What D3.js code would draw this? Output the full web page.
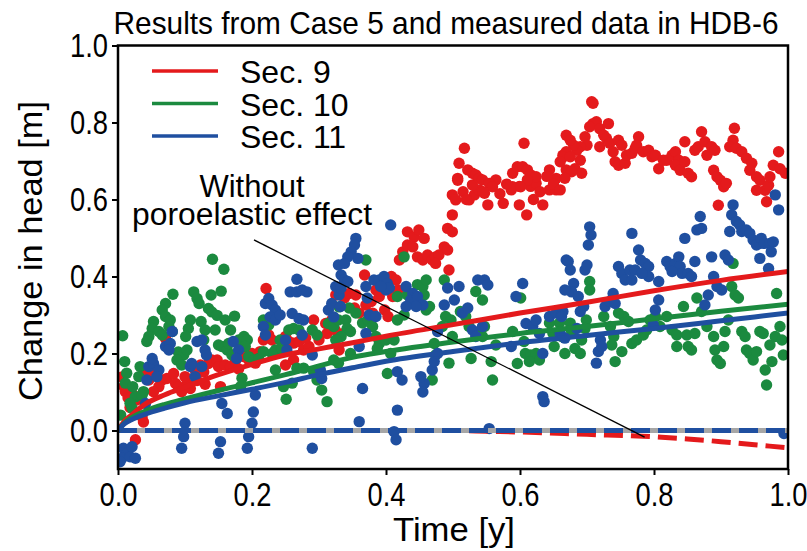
<!DOCTYPE html>
<html>
<head>
<meta charset="utf-8">
<script src="https://cdn.jsdelivr.net/npm/d3@7"></script>
<style>
  html, body { margin: 0; padding: 0; background: #fff; }
  svg { display: block; }
  text { font-family: "Liberation Sans", Arial, Helvetica, sans-serif; fill: #000; }
</style>
</head>
<body>
<svg id="chart" width="807" height="551"></svg>
<script>
// ---- Data ----
const chartTitle = "Results from Case 5 and measured data in HDB-6";
const xLabel = "Time [y]";
const yLabel = "Change in head [m]";
const xTicks = [0, 0.2, 0.4, 0.6, 0.8, 1.0];
const yTicks = [0, 0.2, 0.4, 0.6, 0.8, 1.0];
const seriesNames = ["Sec. 9", "Sec. 10", "Sec. 11"];
const seriesColors = ["#e41a1c", "#1b8a3f", "#1f4fa0"];

// measured head change [time (y), head (m)]
const sec9Points = [
  [0.221,0.369],[0.006,0.139],[0.009,0.114],[0.011,0.101],[0.023,0.092],[0.028,0.079],[0.036,0.035],[0.038,0.022],
  [0.026,-0.024],[0.041,0.156],[0.051,0.148],[0.058,0.152],[0.046,0.131],[0.066,0.131],[0.073,0.135],[0.061,0.114],
  [0.053,0.101],[0.083,0.148],[0.086,0.122],[0.09,0.114],[0.095,0.101],[0.103,0.122],[0.108,0.109],[0.071,0.239],
  [0.076,0.226],[0.115,0.157],[0.123,0.17],[0.128,0.152],[0.135,0.174],[0.14,0.183],[0.148,0.183],[0.15,0.166],
  [0.16,0.17],[0.168,0.166],[0.153,0.114],[0.187,0.192],[0.193,0.196],[0.195,0.183],[0.212,0.205],[0.217,0.235],
  [0.22,0.244],[0.225,0.248],[0.23,0.235],[0.25,0.244],[0.255,0.231],[0.262,0.227],[0.262,0.183],[0.25,0.17],
  [0.27,0.231],[0.277,0.209],[0.285,0.218],[0.292,0.287],[0.3,0.235],[0.312,0.252],[0.31,0.278],[0.319,0.287],
  [0.324,0.261],[0.1,0.14],[0.118,0.13],[0.13,0.12],[0.175,0.18],[0.18,0.16],[0.2,0.2],[0.205,0.175],[0.24,0.21],
  [0.28,0.24],[0.018,0.06],[0.015,0.085],
  [0.325,0.352],[0.338,0.344],[0.345,0.356],[0.355,0.352],[0.353,0.318],[0.36,0.305],[0.37,0.326],[0.378,0.335],
  [0.385,0.365],[0.39,0.348],[0.398,0.313],[0.403,0.296],[0.4,0.391],[0.408,0.4],[0.415,0.391],[0.418,0.365],
  [0.368,0.404],[0.41,0.348],[0.38,0.305],[0.33,0.209],[0.333,0.251],
  [0.432,0.516],[0.442,0.503],[0.449,0.521],[0.457,0.499],[0.42,0.443],[0.425,0.464],[0.432,0.482],[0.44,0.477],
  [0.447,0.451],[0.455,0.443],[0.462,0.456],[0.469,0.443],[0.474,0.451],[0.479,0.456],[0.487,0.477],[0.492,0.469],
  [0.494,0.417],[0.474,0.434],[0.492,0.525],[0.499,0.516],[0.499,0.56],
  [0.507,0.65],[0.499,0.612],[0.504,0.599],[0.524,0.599],[0.532,0.612],[0.539,0.625],[0.547,0.616],[0.529,0.638],
  [0.552,0.586],[0.557,0.642],[0.564,0.651],[0.587,0.625],[0.599,0.634],[0.599,0.586],[0.616,0.634],[0.624,0.642],
  [0.634,0.586],[0.644,0.625],[0.654,0.625],
  [0.517,0.733],[0.509,0.694],[0.507,0.655],[0.522,0.677],[0.529,0.668],[0.534,0.664],[0.539,0.655],[0.544,0.651],
  [0.554,0.642],[0.559,0.633],[0.606,0.746],[0.589,0.668],[0.596,0.685],[0.604,0.685],[0.611,0.677],[0.616,0.664],
  [0.624,0.659],[0.611,0.651],[0.589,0.633],[0.601,0.633],[0.644,0.677],[0.654,0.655],[0.669,0.767],[0.664,0.715],
  [0.669,0.677],[0.515,0.62],[0.52,0.6],[0.545,0.62],[0.57,0.615],[0.575,0.59],[0.58,0.64],[0.62,0.6],[0.63,0.62],
  [0.64,0.66],[0.65,0.64],[0.61,0.56],
  [0.707,0.854],[0.709,0.85],[0.709,0.797],[0.714,0.802],[0.704,0.789],[0.719,0.784],[0.732,0.797],[0.725,0.767],
  [0.729,0.759],[0.697,0.763],[0.7,0.741],[0.69,0.737],[0.685,0.728],[0.68,0.741],[0.675,0.754],[0.669,0.724],
  [0.665,0.711],[0.66,0.698],[0.69,0.702],[0.682,0.68],[0.692,0.668],[0.677,0.672],[0.667,0.655],[0.66,0.625],
  [0.675,0.711],
  [0.719,0.737],[0.734,0.746],[0.739,0.724],[0.747,0.754],[0.752,0.741],[0.742,0.698],[0.747,0.689],[0.757,0.694],
  [0.759,0.715],[0.767,0.72],[0.772,0.733],[0.777,0.763],[0.774,0.741],[0.784,0.724],[0.792,0.728],[0.797,0.711],
  [0.802,0.715],[0.807,0.68],[0.814,0.702],[0.819,0.702],[0.827,0.715],[0.832,0.724],[0.837,0.702],[0.832,0.689],
  [0.839,0.676],[0.846,0.698],[0.851,0.668],[0.856,0.659],[0.846,0.75],[0.861,0.728],[0.866,0.737],[0.871,0.776],
  [0.876,0.75],[0.879,0.715],[0.886,0.737],[0.891,0.728],[0.889,0.676],[0.894,0.659],[0.899,0.65],[0.904,0.633],
  [0.896,0.585],[0.908,0.642],
  [0.92,0.785],[0.918,0.754],[0.913,0.737],[0.923,0.733],[0.931,0.724],[0.938,0.707],[0.946,0.694],[0.943,0.676],
  [0.953,0.659],[0.958,0.65],[0.966,0.624],[0.971,0.637],[0.973,0.659],[0.978,0.689],[0.986,0.724],[0.988,0.68],
  [0.953,0.624],[0.968,0.594],[0.996,0.668]
];

const sec10Points = [
  [0.141,0.445],[0.158,0.419],[0.082,0.354],[0.071,0.33],[0.113,0.36],[0.118,0.343],[0.121,0.33],[0.139,0.352],
  [0.154,0.362],[0.135,0.317],[0.14,0.308],[0.148,0.299],[0.16,0.287],[0.168,0.261],[0.174,0.297],[0.108,0.287],
  [0.105,0.265],[0.101,0.244],[0.124,0.283],[0.13,0.261],[0.128,0.235],[0.145,0.261],[0.066,0.313],[0.071,0.296],
  [0.078,0.287],[0.076,0.27],[0.081,0.257],[0.053,0.283],[0.051,0.265],[0.046,0.244],[0.043,0.231],[0.061,0.257],
  [0.066,0.248],[0.007,0.246],[0.01,0.179],[0.013,0.149],[0.011,0.123],[0.022,0.114],[0.026,0.088],[0.018,0.071],
  [0.021,0.058],[0.033,0.166],[0.031,0.14],[0.038,0.101],[0.036,0.092],[0.004,0.04],[0.09,0.204],[0.098,0.196],
  [0.088,0.183],[0.095,0.17],[0.103,0.209],[0.15,0.222],[0.155,0.218],[0.163,0.209],[0.17,0.196],[0.165,0.226],
  [0.18,0.235],[0.188,0.244],[0.193,0.235],[0.19,0.218],[0.195,0.192],[0.203,0.183],[0.21,0.187],[0.185,0.136],
  [0.183,0.114],[0.217,0.287],[0.225,0.274],[0.235,0.209],[0.23,0.2],[0.217,0.205],[0.235,0.157],[0.247,0.114],
  [0.251,0.081],[0.255,0.261],[0.262,0.265],[0.27,0.261],[0.267,0.162],[0.277,0.162],[0.26,0.123],[0.242,0.235],
  [0.245,0.213],[0.304,0.105],[0.312,0.075],[0.297,0.131],[0.314,0.278],[0.322,0.27],[0.329,0.287],[0.29,0.261],
  [0.297,0.248],[0.322,0.183],[0.329,0.175],[0.292,0.153],
  [0.37,0.443],[0.427,0.451],[0.33,0.321],[0.345,0.318],[0.34,0.287],[0.342,0.265],[0.347,0.257],[0.333,0.244],
  [0.325,0.235],[0.347,0.2],[0.355,0.305],[0.365,0.279],[0.373,0.287],[0.38,0.27],[0.385,0.244],[0.39,0.226],
  [0.387,0.213],[0.4,0.235],[0.412,0.235],[0.407,0.2],[0.402,0.148],[0.417,0.348],[0.417,0.287],[0.427,0.3],
  [0.432,0.352],[0.447,0.379],[0.455,0.374],[0.46,0.391],[0.457,0.352],[0.46,0.313],[0.465,0.322],[0.472,0.226],
  [0.474,0.196],[0.469,0.131],[0.487,0.391],[0.489,0.296],[0.497,0.287],[0.499,0.244],[0.494,0.175],[0.484,0.27],
  [0.511,0.309],[0.519,0.296],[0.524,0.27],[0.527,0.187],[0.534,0.252],[0.534,0.361],[0.544,0.339],[0.547,0.27],
  [0.544,0.244],[0.557,0.179],[0.559,0.131],[0.564,0.222],[0.589,0.257],[0.596,0.174],[0.601,0.344],[0.608,0.2],
  [0.616,0.196],[0.624,0.2],[0.629,0.183],[0.614,0.179],[0.606,0.231],[0.644,0.279],[0.649,0.253],[0.659,0.279],
  [0.651,0.218],
  [0.704,0.387],[0.704,0.365],[0.699,0.287],[0.697,0.265],[0.692,0.235],[0.682,0.213],[0.69,0.2],[0.667,0.2],
  [0.677,0.257],[0.675,0.279],[0.662,0.244],[0.725,0.296],[0.735,0.27],[0.74,0.244],[0.737,0.222],[0.742,0.179],
  [0.752,0.205],[0.755,0.296],[0.747,0.305],[0.762,0.283],[0.767,0.226],[0.774,0.235],[0.784,0.248],[0.789,0.261],
  [0.794,0.287],[0.802,0.296],[0.809,0.27],[0.819,0.296],[0.827,0.261],[0.834,0.248],[0.834,0.218],[0.849,0.248],
  [0.851,0.218],[0.856,0.209],[0.861,0.252],[0.844,0.322],[0.864,0.344],[0.871,0.309],[0.879,0.27],[0.889,0.244],
  [0.891,0.209],[0.894,0.183],[0.899,0.174],[0.904,0.218],[0.906,0.257],[0.911,0.287],[0.916,0.374],[0.921,0.352],
  [0.926,0.344],[0.918,0.434],[0.931,0.257],[0.936,0.244],[0.938,0.209],[0.943,0.2],[0.948,0.183],[0.953,0.205],
  [0.958,0.257],[0.963,0.252],[0.966,0.157],[0.968,0.118],[0.976,0.179],[0.973,0.222],[0.981,0.244],[0.983,0.356],
  [0.988,0.27],[0.991,0.235],[0.993,0.196]
];

const sec11Points = [
  [0.008,-0.046],[0.013,-0.059],[0.006,-0.072],[0.018,-0.068],[0.026,-0.072],[0.003,-0.081],[0.021,-0.042],
  [0.041,0.07],[0.043,0.131],[0.046,0.166],[0.053,0.174],[0.051,0.187],[0.061,0.157],[0.058,0.14],[0.071,0.218],
  [0.078,0.226],[0.081,0.257],[0.076,0.209],[0.108,0.166],[0.115,0.14],[0.11,0.174],[0.118,0.231],[0.125,0.235],
  [0.13,0.209],[0.132,0.196],[0.125,0.166],[0.155,0.07],[0.163,0.044],[0.1,0.019],[0.098,-0.016],[0.095,-0.046],
  [0.153,-0.029],[0.15,-0.059],[0.172,0.231],[0.18,0.209],[0.177,0.187],[0.2,0.019],[0.195,-0.016],[0.193,-0.046],
  [0.205,0.092],[0.202,0.048],[0.22,0.33],[0.225,0.343],[0.23,0.326],[0.235,0.313],[0.227,0.295],[0.235,0.287],
  [0.242,0.3],[0.217,0.27],[0.22,0.248],[0.25,0.235],[0.252,0.209],[0.257,0.36],[0.267,0.36],[0.275,0.365],
  [0.282,0.36],[0.267,0.393],[0.26,0.304],[0.27,0.291],[0.277,0.287],[0.275,0.248],[0.29,-0.046],[0.302,0.157],
  [0.304,0.135],[0.314,0.313],[0.319,0.33],[0.322,0.295],[0.332,0.322],[0.329,0.43],[0.29,0.196],
  [0.407,0.534],[0.355,0.499],[0.353,0.482],[0.348,0.464],[0.358,0.447],[0.343,0.451],[0.338,0.434],[0.333,0.404],
  [0.338,0.391],[0.343,0.387],[0.33,0.352],[0.325,0.374],[0.333,0.37],[0.37,0.374],[0.382,0.391],[0.39,0.391],
  [0.397,0.4],[0.402,0.382],[0.4,0.365],[0.405,0.37],[0.392,0.374],[0.372,0.344],[0.375,0.3],[0.385,0.296],
  [0.37,0.252],[0.36,0.218],[0.43,0.374],[0.44,0.356],[0.437,0.339],[0.447,0.348],[0.455,0.326],[0.445,0.322],
  [0.43,0.322],[0.365,0.109],[0.417,0.153],[0.424,0.131],[0.417,0.053],[0.36,0.023],[0.412,-0.003],[0.415,-0.024],
  [0.457,0.122],[0.455,0.1],[0.469,0.157],[0.472,0.179],[0.452,0.14],[0.477,0.257],[0.477,0.2],[0.487,0.326],
  [0.492,0.37],[0.502,0.339],[0.509,0.374],[0.514,0.305],[0.522,0.318],[0.529,0.261],[0.534,0.244],[0.544,0.27],
  [0.537,0.391],[0.547,0.391],[0.552,0.378],[0.554,0.005],[0.587,0.218],[0.594,0.348],[0.604,0.382],[0.609,0.278],
  [0.619,0.27],[0.624,0.287],[0.629,0.252],[0.634,0.2],[0.634,0.088],[0.636,0.075],[0.644,0.296],[0.654,0.305],
  [0.664,0.309],[0.669,0.443],
  [0.704,0.529],[0.706,0.508],[0.702,0.482],[0.672,0.439],[0.675,0.417],[0.68,0.382],[0.677,0.36],[0.667,0.365],
  [0.687,0.348],[0.697,0.417],[0.7,0.43],[0.695,0.322],[0.69,0.309],[0.662,0.296],[0.685,0.265],[0.667,0.24],
  [0.66,0.252],[0.72,0.235],[0.717,0.205],[0.714,0.175],[0.722,0.218],[0.727,0.322],[0.734,0.335],[0.739,0.356],
  [0.742,0.33],[0.747,0.426],[0.752,0.408],[0.757,0.391],[0.767,0.391],[0.777,0.469],[0.78,0.443],[0.787,0.434],
  [0.792,0.426],[0.792,0.4],[0.764,0.417],[0.772,0.417],[0.782,0.408],[0.767,0.512],[0.802,0.313],[0.807,0.339],
  [0.807,0.387],[0.799,0.274],[0.819,0.439],[0.824,0.426],[0.832,0.434],[0.837,0.451],[0.839,0.426],[0.842,0.408],
  [0.827,0.413],[0.846,0.499],[0.851,0.408],[0.856,0.4],[0.861,0.439],[0.864,0.521],[0.869,0.556],[0.871,0.525],
  [0.876,0.326],[0.881,0.352],[0.889,0.4],[0.886,0.451],[0.894,0.374],[0.901,0.365],[0.906,0.456],[0.911,0.443],
  [0.918,0.586],[0.916,0.56],[0.923,0.543],[0.913,0.517],[0.928,0.534],[0.931,0.517],[0.938,0.521],[0.943,0.512],
  [0.948,0.495],[0.953,0.482],[0.958,0.486],[0.96,0.499],[0.965,0.486],[0.973,0.486],[0.978,0.49],[0.975,0.464],
  [0.958,0.447],[0.971,0.421],[0.981,0.612],[0.986,0.573],[0.994,-0.008]
];

// simulated head change, Case 5 [time (y), head (m)]
const sec9Model = [[0,0],[0.01,0.025],[0.02,0.04],[0.04,0.068],[0.07,0.093],[0.1,0.113],[0.15,0.145],[0.2,0.172],
  [0.25,0.196],[0.3,0.212],[0.35,0.228],[0.4,0.245],[0.5,0.275],[0.6,0.305],[0.7,0.333],[0.8,0.363],[0.9,0.39],[1.0,0.413]];
const sec10Model = [[0,0],[0.01,0.02],[0.02,0.033],[0.04,0.05],[0.07,0.068],[0.1,0.082],[0.15,0.104],[0.2,0.124],
  [0.25,0.145],[0.3,0.168],[0.35,0.19],[0.4,0.205],[0.5,0.23],[0.6,0.252],[0.7,0.27],[0.8,0.29],[0.9,0.31],[1.0,0.328]];
const sec11Model = [[0,0],[0.01,0.018],[0.02,0.028],[0.04,0.042],[0.07,0.058],[0.1,0.072],[0.15,0.09],[0.2,0.107],
  [0.25,0.125],[0.3,0.145],[0.35,0.163],[0.4,0.18],[0.5,0.205],[0.6,0.228],[0.7,0.247],[0.8,0.265],[0.9,0.285],[1.0,0.305]];

// simulated head change without poroelastic effect
const sec9NoPoro = [[0,0],[0.5,0],[0.55,-0.002],[0.6,-0.004],[0.667,-0.008],[0.7,-0.01],[0.784,-0.015],[0.85,-0.022],[0.9,-0.029],[0.95,-0.037],[1.0,-0.045]];
const sec10NoPoro = [[0,0],[1.0,0]];
const sec11NoPoro = [[0,0],[1.0,0]];

const annotationText = ["Without", "poroelastic effect"];
const annotationAnchor = [0.203, 0.495];   // label end of the leader line
const annotationTarget = [0.786, -0.017];  // point on the curve

// ---- Layout ----
const svg = d3.select("#chart");
const x = d3.scaleLinear().domain([0, 1]).range([118, 788]);
const y = d3.scaleLinear().domain([-0.1, 1.0]).range([469, 45.5]);
const FONT = "'Liberation Sans', Arial, Helvetica, sans-serif";

const line = d3.line().x(d => x(d[0])).y(d => y(d[1])).curve(d3.curveMonotoneX);

const plot = svg.append("g");
plot.append("clipPath").attr("id", "clip")
  .append("rect").attr("x", x(0)).attr("y", y(1.0)).attr("width", x(1) - x(0)).attr("height", y(-0.1) - y(1.0));
const inner = plot.append("g").attr("clip-path", "url(#clip)");

// measured data
[sec9Points, sec10Points, sec11Points].forEach((pts, i) => {
  inner.append("g").selectAll("circle").data(pts).join("circle")
    .attr("cx", d => x(d[0])).attr("cy", d => y(d[1])).attr("r", 5.7)
    .attr("fill", seriesColors[i]);
});

// zero reference (no poroelastic effect, all sections)
inner.append("path").datum(sec10NoPoro).attr("d", line)
  .attr("fill", "none").attr("stroke", "#a6a6a6").attr("stroke-width", 5);
inner.append("path").datum(sec9NoPoro).attr("d", line)
  .attr("fill", "none").attr("stroke", seriesColors[0]).attr("stroke-width", 5)
  .attr("stroke-dasharray", "19,8");
inner.append("path").datum(sec11NoPoro).attr("d", line)
  .attr("fill", "none").attr("stroke", seriesColors[2]).attr("stroke-width", 5)
  .attr("stroke-dasharray", "19,8");

// model curves
[sec9Model, sec10Model, sec11Model].forEach((m, i) => {
  inner.append("path").datum(m).attr("d", line)
    .attr("fill", "none").attr("stroke", seriesColors[i]).attr("stroke-width", 5);
});

// leader line for the annotation
plot.append("line")
  .attr("x1", x(annotationAnchor[0])).attr("y1", y(annotationAnchor[1]))
  .attr("x2", x(annotationTarget[0])).attr("y2", y(annotationTarget[1]))
  .attr("stroke", "#000").attr("stroke-width", 1.3);

// axes
const yAxis = d3.axisLeft(y).tickValues(yTicks).tickFormat(d3.format(".1f")).tickSize(6).tickPadding(4);
const xAxis = d3.axisBottom(x).tickValues(xTicks).tickFormat(d3.format(".1f")).tickSize(6).tickPadding(8);

const gy = svg.append("g").attr("transform", `translate(${x(0)},0)`).call(yAxis);
const gx = svg.append("g").attr("transform", `translate(0,${y(-0.1)})`).call(xAxis);
[gx, gy].forEach(g => {
  g.select(".domain").remove();
  g.selectAll(".tick line").attr("stroke", "#000").attr("stroke-width", 2);
  g.selectAll(".tick text").attr("font-family", FONT).attr("font-size", 33).attr("fill", "#000")
    .attr("textLength", 38).attr("lengthAdjust", "spacingAndGlyphs");
});

// frame
svg.append("rect")
  .attr("x", x(0)).attr("y", y(1.0)).attr("width", x(1) - x(0)).attr("height", y(-0.1) - y(1.0))
  .attr("fill", "none").attr("stroke", "#000").attr("stroke-width", 2.5);

// titles
svg.append("text").attr("x", 446).attr("y", 34).attr("text-anchor", "middle")
  .attr("font-size", 32).attr("textLength", 665).attr("lengthAdjust", "spacingAndGlyphs")
  .text(chartTitle);
svg.append("text").attr("x", 454).attr("y", 541).attr("text-anchor", "middle")
  .attr("font-size", 34).attr("textLength", 122).attr("lengthAdjust", "spacingAndGlyphs")
  .text(xLabel);
svg.append("text").attr("transform", "translate(42,251) rotate(-90)").attr("text-anchor", "middle")
  .attr("font-size", 34).attr("textLength", 300).attr("lengthAdjust", "spacingAndGlyphs")
  .text(yLabel);

// annotation text
svg.append("text").attr("x", 252).attr("y", 197).attr("text-anchor", "middle")
  .attr("font-size", 31).text(annotationText[0]);
svg.append("text").attr("x", 252).attr("y", 225).attr("text-anchor", "middle")
  .attr("font-size", 31).attr("textLength", 240).attr("lengthAdjust", "spacingAndGlyphs")
  .text(annotationText[1]);

// legend
const legend = svg.append("g");
seriesNames.forEach((name, i) => {
  const ly = 71 + i * 32.5;
  legend.append("line").attr("x1", 152).attr("x2", 218).attr("y1", ly).attr("y2", ly)
    .attr("stroke", seriesColors[i]).attr("stroke-width", 3.5);
  legend.append("text").attr("x", 240).attr("y", ly + 12).attr("font-size", 32).text(name);
});
</script>
</body>
</html>
